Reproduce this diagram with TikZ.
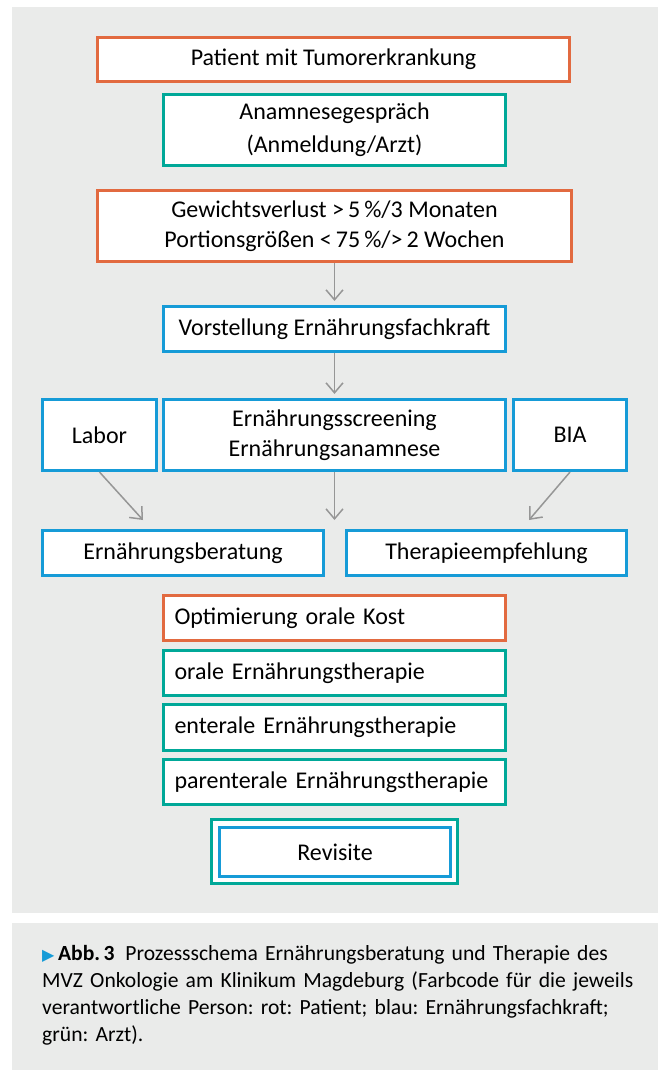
\documentclass[tikz,border=0pt]{standalone}
\usepackage{fontspec}
\setmainfont{Carlito}
\newfontfamily\zeichenfont{DejaVu Sans}
\usetikzlibrary{arrows.meta}
\frenchspacing
\definecolor{rot}{RGB}{226,106,64}
\definecolor{blau}{RGB}{22,155,215}
\definecolor{gruen}{RGB}{0,168,152}
\definecolor{hintergrund}{RGB}{234,235,234}
\definecolor{pfeilgrau}{RGB}{150,150,150}
\tikzset{kasten/.style={draw,fill=white,line width=2.6pt,inner sep=0pt,align=center,font=\fontsize{24}{30}\selectfont}}
\tikzset{rotbox/.style={kasten,draw=rot}}
\tikzset{blaubox/.style={kasten,draw=blau}}
\tikzset{gruenbox/.style={kasten,draw=gruen}}
\tikzset{liste/.style={minimum width=342pt,minimum height=45.5pt,text width=320pt,align=left}}
\tikzset{pfeil/.style={draw=pfeilgrau,line width=1.5pt,-{Straight Barb[length=10pt,width=17pt]}}}

\begin{document}
\begin{tikzpicture}[x=1pt,y=-1pt]
\useasboundingbox (0,0) rectangle (660,1070);
\fill[hintergrund] (12,7) rectangle (658,913);
\fill[hintergrund] (12,923) rectangle (658,1070);

\node[rotbox, minimum width=472pt, minimum height=44.5pt] (patient) at (333.5,59.5) {Patient mit Tumorerkrankung};
\node[gruenbox, minimum width=342pt, minimum height=71.5pt, font=\fontsize{24}{33}\selectfont] (anamnese) at (334.5,130) {Anamnesegespräch\\(Anmeldung/Arzt)};
\node[rotbox, minimum width=474pt, minimum height=71.5pt] (gewicht) at (334.5,226) {Gewichtsverlust >\,5\,\%/3 Monaten\\Portionsgrößen <\,75\,\%/>\,2 Wochen};
\node[blaubox, minimum width=342pt, minimum height=45.5pt] (vorstellung) at (334.5,329) {Vorstellung Ernährungsfachkraft};

\node[blaubox, minimum width=114pt, minimum height=71.5pt] (labor) at (99.5,435) {Labor};
\node[blaubox, minimum width=342pt, minimum height=71.5pt] (screening) at (334.5,435) {Ernährungsscreening\\Ernährungsanamnese};
\node[blaubox, minimum width=113pt, minimum height=71.5pt] (bia) at (570,435) {BIA};

\node[blaubox, minimum width=281pt, minimum height=45.5pt] (beratung) at (183,553) {Ernährungsberatung};
\node[blaubox, minimum width=280pt, minimum height=45.5pt] (empfehlung) at (486.5,553) {Therapieempfehlung};

\node[rotbox, liste] (optimierung) at (334.5,618) {Optimierung orale Kost};
\node[gruenbox, liste] (oral) at (334.5,673) {orale Ernährungstherapie};
\node[gruenbox, liste] (enteral) at (334.5,727.5) {enterale Ernährungstherapie};
\node[gruenbox, liste] (parenteral) at (334.5,782) {parenterale Ernährungstherapie};

\node[gruenbox, minimum width=246.5pt, minimum height=64.5pt] (rahmen) at (334.5,851.5) {};
\node[blaubox, minimum width=231.5pt, minimum height=49.5pt] (revisite) at (335,852) {Revisite};

\coordinate (zielL) at (143,520);
\coordinate (zielM) at (334.5,520);
\coordinate (zielR) at (529,520);

\draw[pfeil, shorten >=4pt] (gewicht) -- (vorstellung);
\draw[pfeil, shorten >=4pt] (vorstellung) -- (screening);
\draw[pfeil] (labor.south) -- (zielL);
\draw[pfeil] (screening.south) -- (zielM);
\draw[pfeil] (bia.south) -- (zielR);

\node[anchor=north west, inner sep=0pt, text width=610pt, align=left, font=\fontsize{21.6}{27}\selectfont] (legende) at (42,945)
  {{\zeichenfont\fontsize{16}{16}\selectfont\color{blau}▶}\,\textbf{Abb.\,3}\enspace Prozessschema Ernährungsberatung und Therapie des\\
   MVZ Onkologie am Klinikum Magdeburg (Farbcode für die jeweils\\
   verantwortliche Person: rot: Patient; blau: Ernährungsfachkraft;\\
   grün: Arzt).};
\end{tikzpicture}
\end{document}
